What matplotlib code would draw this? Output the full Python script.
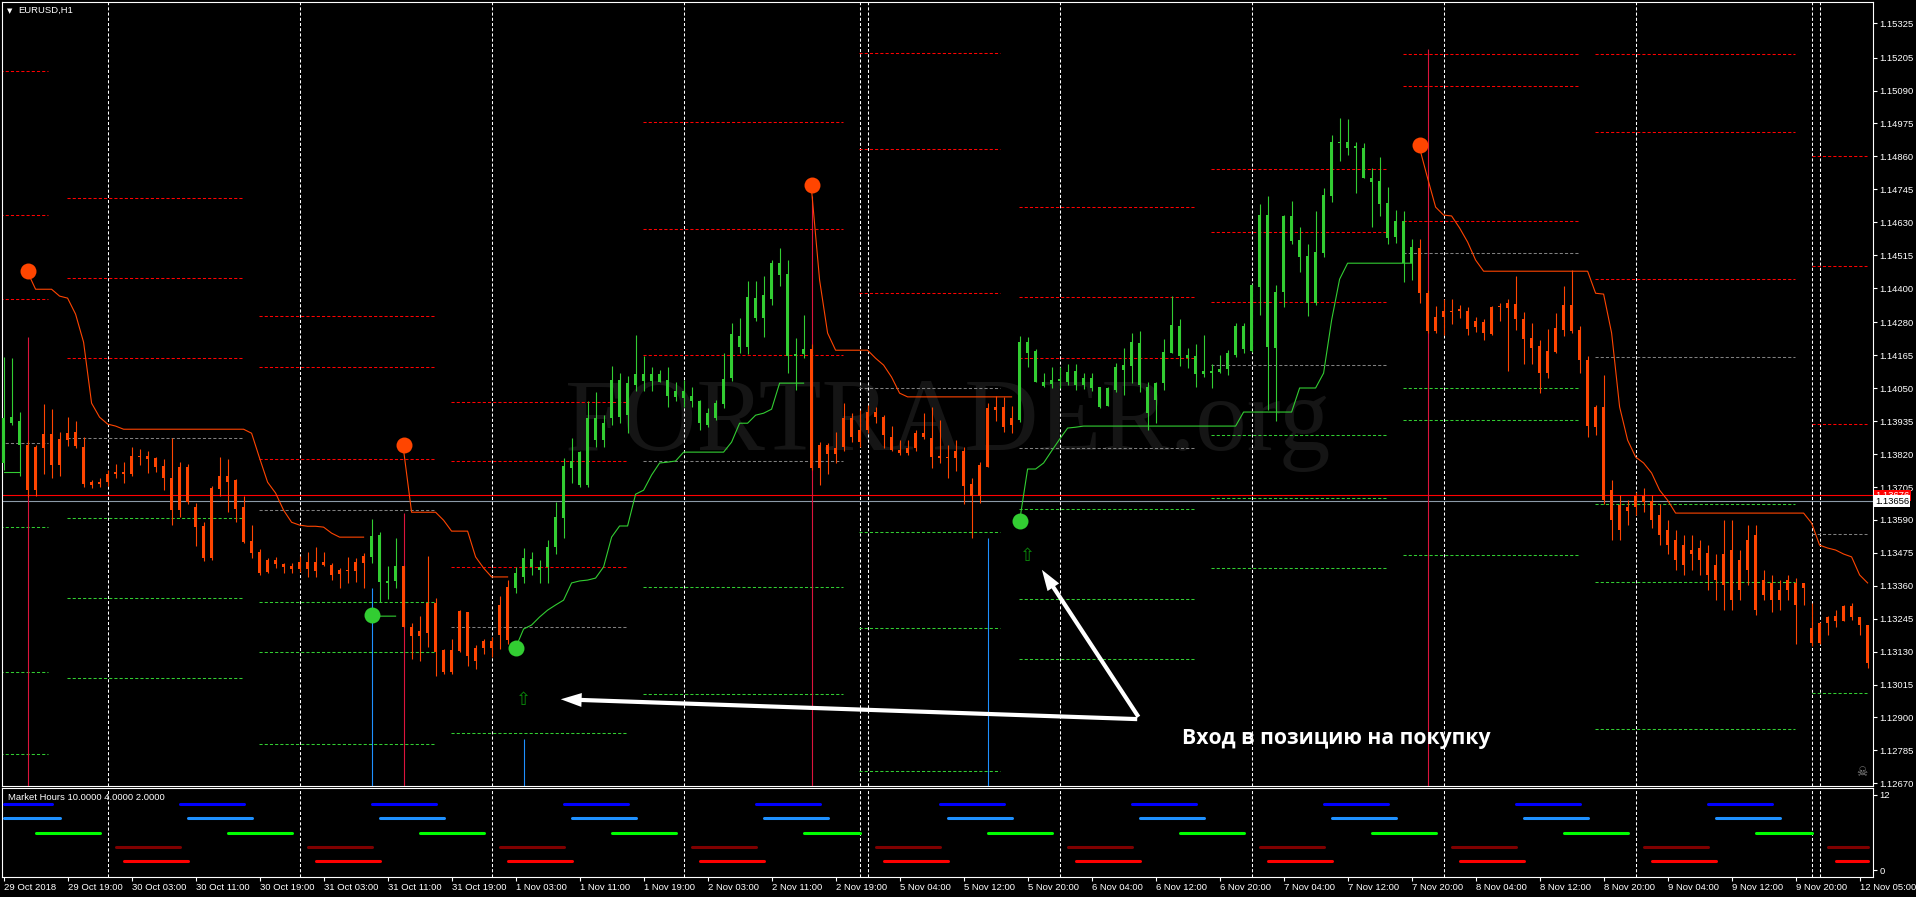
import numpy as np
import matplotlib.pyplot as plt
from matplotlib.patches import FancyArrowPatch
from matplotlib.transforms import blended_transform_factory

plt.rcParams['font.family'] = ['Liberation Sans', 'DejaVu Sans']

# EURUSD H1, 29 Oct 11:00 .. 12 Nov 05:00, prices in points (1e-5)
opens = [
    113789, 113928, 113851, 113851, 113844, 113890, 113890, 113872, 113893, 113897,
    113844, 113722, 113722, 113750, 113757, 113757, 113813, 113813, 113813, 113805,
    113777, 113736, 113774, 113774, 113634, 113568, 113701, 113743, 113743, 113729,
    113634, 113516, 113478, 113450, 113450, 113436, 113429, 113443, 113443, 113443,
    113443, 113433, 113415, 113415, 113443, 113464, 113461, 113373, 113370, 113377,
    113429, 113216, 113202, 113300, 113300, 113136, 113136, 113272, 113268, 113143,
    113167, 113167, 113293, 113355, 113352, 113391, 113426, 113415, 113426, 113495,
    113596, 113770, 113712, 113712, 113868, 113868, 113946, 113949, 113957, 114061,
    114075, 114075, 114072, 114023, 114020, 114016, 114004, 113928, 113921, 113946,
    113994, 114086, 114194, 114194, 114295, 114295, 114361, 114445, 114449, 114169,
    114169, 114187, 113851, 113851, 113841, 113946, 113946, 113906, 113967, 113967,
    113949, 113879, 113834, 113841, 113893, 113893, 113876, 113813, 113809, 113830,
    113830, 113715, 113781, 113981, 113985, 113985, 113946, 113939, 114173, 114072,
    114058, 114065, 114075, 114072, 114061, 114061, 114051, 113985, 113988, 114044,
    114114, 114128, 114061, 113964, 114009, 114068, 114173, 114162, 114155, 114100,
    114100, 114103, 114107, 114117, 114166, 114187, 114180, 114403, 114655, 114190,
    114386, 114565, 114509, 114348, 114348, 114522, 114721, 114906, 114889, 114889,
    114889, 114784, 114774, 114697, 114634, 114634, 114543, 114540, 114382, 114299,
    114320, 114320, 114327, 114320, 114285, 114281, 114334, 114337, 114348, 114344,
    114292, 114225, 114197, 114180, 114260, 114341, 114341, 114253, 114148, 113985,
    113985, 113694, 113642, 113634, 113674, 113674, 113655, 113607, 113555, 113520,
    113503, 113485, 113492, 113475, 113433, 113470, 113485, 113450, 113520, 113537,
    113380, 113370, 113345, 113380, 113370, 113370, 113212, 113230, 113251, 113254,
    113289, 113289, 113251, 113223]
highs = [
    114159, 114155, 113967, 113868, 113851, 113995, 113977, 113897, 113949, 113935,
    113879, 113729, 113736, 113764, 113785, 113792, 113844, 113838, 113830, 113809,
    113802, 113875, 113792, 113785, 113648, 113582, 113708, 113809, 113802, 113733,
    113672, 113572, 113488, 113457, 113461, 113440, 113440, 113464, 113478, 113495,
    113478, 113440, 113422, 113461, 113457, 113475, 113593, 113548, 113429, 113527,
    113429, 113230, 113254, 113464, 113317, 113139, 113174, 113275, 113268, 113153,
    113174, 113181, 113324, 113380, 113426, 113492, 113478, 113450, 113520, 113652,
    113806, 113875, 113830, 114004, 114036, 113957, 114128, 114103, 114093, 114236,
    114162, 114124, 114114, 114124, 114072, 114079, 114054, 114009, 113981, 114009,
    114173, 114278, 114295, 114424, 114424, 114442, 114498, 114540, 114498, 114225,
    114306, 114203, 113862, 113858, 113897, 113999, 113964, 113974, 113991, 113985,
    113957, 113918, 113868, 113868, 113906, 113964, 113985, 113939, 113851, 113868,
    113844, 113736, 113792, 113999, 114023, 114020, 113988, 114232, 114229, 114187,
    114103, 114124, 114124, 114135, 114135, 114103, 114103, 114054, 114054, 114138,
    114190, 114243, 114250, 114072, 114072, 114222, 114372, 114292, 114190, 114203,
    114236, 114135, 114166, 114183, 114278, 114278, 114414, 114693, 114721, 114410,
    114655, 114704, 114613, 114555, 114669, 114749, 114934, 114994, 114990, 114910,
    114906, 114819, 114858, 114753, 114672, 114669, 114571, 114571, 114393, 114337,
    114361, 114361, 114341, 114334, 114299, 114292, 114337, 114348, 114361, 114442,
    114316, 114278, 114218, 114257, 114313, 114407, 114463, 114267, 114162, 113991,
    114096, 113729, 113676, 113659, 113687, 113701, 113676, 113645, 113589, 113555,
    113537, 113537, 113520, 113503, 113470, 113589, 113589, 113485, 113572, 113572,
    113415, 113398, 113380, 113398, 113387, 113370, 113300, 113233, 113254, 113275,
    113293, 113300, 113251, 113223]
lows = [
    113764, 113921, 113742, 113669, 113672, 113749, 113735, 113742, 113847, 113841,
    113705, 113701, 113705, 113708, 113735, 113719, 113742, 113782, 113753, 113757,
    113694, 113572, 113600, 113645, 113499, 113446, 113450, 113674, 113617, 113582,
    113510, 113457, 113398, 113405, 113422, 113405, 113405, 113408, 113391, 113391,
    113429, 113380, 113352, 113370, 113373, 113352, 113440, 113303, 113314, 113352,
    113216, 113104, 113097, 113146, 113045, 113052, 113052, 113129, 113080, 113069,
    113122, 113111, 113139, 113157, 113334, 113370, 113398, 113370, 113370, 113470,
    113527, 113719, 113705, 113705, 113844, 113844, 113921, 113928, 113893, 114039,
    114039, 114039, 114072, 113985, 114006, 113985, 113985, 113906, 113914, 113939,
    113981, 114075, 114173, 114169, 114285, 114229, 114341, 114407, 114103, 114044,
    114155, 113764, 113712, 113749, 113789, 113830, 113861, 113844, 113893, 113928,
    113841, 113830, 113817, 113817, 113830, 113872, 113772, 113789, 113736, 113760,
    113645, 113527, 113648, 113774, 113935, 113897, 113893, 113932, 114124, 114072,
    114054, 114051, 114051, 114061, 114044, 114047, 114039, 113981, 113988, 114036,
    114026, 114068, 114036, 113906, 113928, 114044, 114173, 114128, 114121, 114054,
    114089, 114051, 114103, 114096, 114159, 114173, 114176, 114306, 113974, 113935,
    114334, 114555, 114456, 114302, 114341, 114509, 114700, 114844, 114865, 114732,
    114784, 114613, 114652, 114555, 114558, 114421, 114428, 114348, 114243, 114243,
    114236, 114274, 114295, 114236, 114246, 114218, 114236, 114285, 114110, 114253,
    114135, 114135, 114033, 114086, 114173, 114232, 114243, 114103, 113879, 113887,
    113645, 113520, 113520, 113572, 113607, 113617, 113561, 113503, 113470, 113415,
    113398, 113415, 113398, 113345, 113310, 113275, 113275, 113310, 113362, 113258,
    113310, 113268, 113275, 113310, 113157, 113293, 113150, 113157, 113188, 113216,
    113237, 113240, 113188, 113073]
closes = [
    113946, 113949, 113935, 113694, 113694, 113841, 113782, 113782, 113868, 113847,
    113715, 113712, 113715, 113722, 113749, 113749, 113750, 113809, 113802, 113774,
    113736, 113624, 113624, 113652, 113565, 113457, 113457, 113698, 113722, 113628,
    113513, 113475, 113405, 113408, 113436, 113426, 113419, 113419, 113419, 113412,
    113433, 113398, 113401, 113412, 113412, 113440, 113534, 113537, 113377, 113429,
    113216, 113184, 113184, 113195, 113129, 113059, 113059, 113132, 113115, 113097,
    113143, 113143, 113188, 113171, 113405, 113457, 113453, 113426, 113495, 113600,
    113777, 113796, 113826, 113945, 113945, 113928, 114079, 114079, 114068, 114100,
    114100, 114100, 114100, 114079, 114039, 114040, 114023, 114006, 113964, 113999,
    114082, 114239, 114232, 114368, 114365, 114375, 114487, 114487, 114162, 114162,
    114187, 113772, 113772, 113820, 113820, 113844, 113879, 113861, 113906, 113949,
    113887, 113834, 113823, 113823, 113841, 113879, 113809, 113806, 113806, 113806,
    113708, 113672, 113672, 113774, 113974, 113914, 113921, 114211, 114211, 114180,
    114072, 114079, 114082, 114107, 114110, 114086, 114086, 114054, 114051, 114124,
    114131, 114211, 114208, 114054, 114068, 114176, 114271, 114267, 114166, 114162,
    114110, 114110, 114117, 114173, 114267, 114267, 114410, 114655, 114194, 114386,
    114652, 114652, 114569, 114512, 114526, 114725, 114910, 114910, 114910, 114896,
    114784, 114770, 114693, 114575, 114578, 114487, 114487, 114382, 114250, 114250,
    114299, 114316, 114320, 114257, 114264, 114243, 114239, 114334, 114330, 114292,
    114222, 114190, 114103, 114103, 114176, 114253, 114250, 114148, 113918, 113914,
    113659, 113589, 113555, 113621, 113634, 113652, 113589, 113537, 113503, 113450,
    113433, 113470, 113450, 113398, 113380, 113362, 113310, 113345, 113415, 113275,
    113327, 113310, 113310, 113345, 113293, 113352, 113160, 113160, 113230, 113237,
    113237, 113251, 113223, 113090]

# bars painted green by the trend indicator (others orange)
green_runs = [(0, 2), (46, 49), (64, 100), (127, 176)]

# trailing stop line: (first bar, values)
stop_red = [
    (3, [114456, 114396, 114396, 114396, 114372, 114365, 114309, 114211, 113998, 113949,
         113925, 113918, 113907, 113907, 113907, 113907, 113907, 113907, 113907, 113907,
         113907, 113907, 113907, 113907, 113907, 113907, 113907, 113907, 113893, 113806,
         113722, 113684, 113624, 113582, 113572, 113568, 113568, 113565, 113544, 113530,
         113530, 113530, 113530]),
    (50, [113834, 113617, 113617, 113617, 113617, 113589, 113551, 113551, 113551, 113461,
          113422, 113391, 113391, 113391]),
    (101, [114742, 114428, 114243, 114183, 114183, 114183, 114183, 114183, 114155, 114131,
           114089, 114033, 114020, 114020, 114020, 114020, 114020, 114020, 114020, 114020,
           114020, 114020, 114020, 114020, 114020, 114020]),
    (177, [114889, 114784, 114683, 114655, 114652, 114610, 114561, 114498, 114459, 114459,
           114459, 114459, 114459, 114459, 114459, 114459, 114459, 114459, 114459, 114459,
           114459, 114459, 114382, 114379, 114243, 113985, 113869, 113810, 113789, 113754,
           113694, 113659, 113614, 113614, 113614, 113614, 113614, 113614, 113614, 113614,
           113614, 113614, 113614, 113614, 113614, 113614, 113614, 113614, 113614, 113579,
           113502, 113492, 113485, 113471, 113461, 113398, 113370]),
]
stop_green = [
    (0, [113757, 113757, 113757]),
    (46, [113258, 113254, 113254, 113254]),
    (64, [113143, 113209, 113223, 113251, 113275, 113293, 113310, 113370, 113377, 113380,
          113387, 113426, 113530, 113569, 113569, 113680, 113694, 113747, 113789, 113792,
          113796, 113827, 113827, 113827, 113827, 113827, 113827, 113862, 113928, 113928,
          113956, 113963, 113977, 114068, 114068, 114068, 114068]),
    (127, [113586, 113768, 113768, 113789, 113831, 113872, 113911, 113914, 113918, 113918,
           113918, 113918, 113918, 113918, 113918, 113918, 113918, 113918, 113918, 113918,
           113918, 113918, 113918, 113918, 113918, 113918, 113918, 113918, 113967, 113967,
           113967, 113967, 113967, 113967, 113967, 114051, 114051, 114051, 114103, 114288,
           114431, 114487, 114487, 114487, 114487, 114487, 114487, 114487, 114487, 114487]),
]

sell_dots = [(3, 114459), (50, 113851), (101, 114761), (177, 114899)]
buy_dots = [(46, 113258), (64, 113143), (127, 113587)]
sell_lines = [(3, 114229), (50, 113614), (101, 114721), (178, 115235)]
buy_lines = [(46, 113352), (65, 112825), (123, 113527)]
buy_arrows = [(65, 112961), (128, 113464)]

# daily pivots: bar span and R3, R2, R1, P, S1, S2, S3
pivot_spans = [(-0.5, 5.5), (7.9, 29.9), (31.9, 53.9), (55.9, 77.9), (79.9, 104.9),
               (106.9, 124.5), (126.9, 148.9), (150.9, 172.9), (174.9, 196.9),
               (198.9, 223.9), (226.0, 232.9)]
pivot_levels = [
    [115158, 114655, 114361, 113858, 113565, 113058, 112772],
    [114714, 114435, 114155, 113876, 113596, 113317, 113037],
    [114302, 114124, 113803, 113624, 113303, 113128, 112807],
    [114002, 113796, 113426, 113216, 112845, 112636, 112266],
    [114980, 114608, 114168, 113796, 113355, 112983, 112543],
    [115221, 114886, 114383, 114051, 113548, 113212, 112713],
    [114683, 114368, 114155, 113841, 113628, 113314, 113104],
    [114816, 114596, 114351, 114131, 113887, 113666, 113422],
    [115217, 115106, 114634, 114522, 114051, 113939, 113467],
    [115217, 114945, 114431, 114159, 113645, 113373, 112859],
    [114861, 114477, 113925, 113541, 112985, 112601, 112049],
]

ask_price = 1.13676
bid_price = 1.13656

day_separators = [13, 37, 61, 85, 107, 108, 132, 156, 180, 204, 226, 227]

# Market Hours indicator: day start/end bars, session offset, level, colour
day_starts = [-11, 13, 37, 61, 85, 108, 132, 156, 180, 204, 227]
day_ends = [13, 37, 61, 85, 107, 132, 156, 180, 204, 226, 233]
session_offsets = [9, 10, 15, 1, 2]
session_levels = [10.6, 8.3, 6.0, 3.7, 1.4]
session_colors = ['#0000ff', '#1e90ff', '#00ff00', '#800000', '#ff0000']
session_len = 8

price_ticks = [1.15325, 1.15205, 1.15090, 1.14975, 1.14860, 1.14745, 1.14630, 1.14515,
               1.14400, 1.14280, 1.14165, 1.14050, 1.13935, 1.13820, 1.13705, 1.13590,
               1.13475, 1.13360, 1.13245, 1.13130, 1.13015, 1.12900, 1.12785, 1.12670]
time_labels = ['29 Oct 2018', '29 Oct 19:00', '30 Oct 03:00', '30 Oct 11:00', '30 Oct 19:00',
               '31 Oct 03:00', '31 Oct 11:00', '31 Oct 19:00', '1 Nov 03:00', '1 Nov 11:00',
               '1 Nov 19:00', '2 Nov 03:00', '2 Nov 11:00', '2 Nov 19:00', '5 Nov 04:00',
               '5 Nov 12:00', '5 Nov 20:00', '6 Nov 04:00', '6 Nov 12:00', '6 Nov 20:00',
               '7 Nov 04:00', '7 Nov 12:00', '7 Nov 20:00', '8 Nov 04:00', '8 Nov 12:00',
               '8 Nov 20:00', '9 Nov 04:00', '9 Nov 12:00', '9 Nov 20:00', '12 Nov 05:00']

PT = 1e-5
GREEN = '#32cd32'
ORANGE = '#ff4500'

fig = plt.figure(figsize=(19.16, 8.97), dpi=100, facecolor='black')
ax = fig.add_axes([0.0012, 0.12408, 0.97651, 0.87336])
ax2 = fig.add_axes([0.0012, 0.02263, 0.97651, 0.09855])
for a in (ax, ax2):
    a.set_facecolor('black')
    for s in a.spines.values():
        s.set_color('white')
        s.set_linewidth(0.8)
    a.set_xlim(-0.16, 233.71)
    for b in day_separators:
        a.axvline(b, color='white', lw=0.75, ls=(0, (3, 2)), zorder=1)

ax.set_ylim(1.126617, 1.153984)

# watermark
ax.text(0.3007, 0.4285, 'FORTRADER.org', transform=ax.transAxes, fontsize=74,
        family='Liberation Serif', color='#151515', ha='left', va='baseline', zorder=0)

# pivots
for (x0, x1), lv in zip(pivot_spans, pivot_levels):
    for k, v in enumerate(lv):
        col = '#ff0000' if k < 3 else ('#808080' if k == 3 else GREEN)
        ax.plot([x0, x1], [v * PT, v * PT], color=col, lw=0.75, ls=(0, (3, 2)), zorder=2)

ax.axhline(ask_price, color='#ff0000', lw=0.8, zorder=2)
ax.axhline(bid_price, color='#8c9aa8', lw=0.8, zorder=2)

ybot = ax.get_ylim()[0]
for b, top in sell_lines:
    ax.vlines(b, ybot, top * PT, color='#dc143c', lw=0.8, zorder=3)
for b, top in buy_lines:
    ax.vlines(b, ybot, top * PT, color='#1e90ff', lw=0.8, zorder=3)

# candles
o = np.array(opens) * PT
h = np.array(highs) * PT
l = np.array(lows) * PT
c = np.array(closes) * PT
xs = np.arange(len(o))
is_green = np.zeros(len(o), bool)
for a0, a1 in green_runs:
    is_green[a0:a1 + 1] = True
cols = np.where(is_green, GREEN, ORANGE)
ax.vlines(xs, l, h, colors=cols, lw=0.8, zorder=4)
top = np.maximum(o, c)
bot = np.minimum(o, c)
ax.bar(xs, np.maximum(top - bot, 3e-5), bottom=bot, width=0.45, color=cols, lw=0, zorder=4)

for start, vals in stop_red:
    ax.plot(np.arange(start, start + len(vals)), np.array(vals) * PT, color=ORANGE, lw=0.8, zorder=5)
for start, vals in stop_green:
    ax.plot(np.arange(start, start + len(vals)), np.array(vals) * PT, color=GREEN, lw=0.8, zorder=5)

for b, v in sell_dots:
    ax.plot(b, v * PT, 'o', ms=11.5, color=ORANGE, mec='none', zorder=6)
for b, v in buy_dots:
    ax.plot(b, v * PT, 'o', ms=11.5, color=GREEN, mec='none', zorder=6)
for b, v in buy_arrows:
    ax.text(b, v * PT, '\u21e7', color='#0a8a0a', fontsize=13, family='DejaVu Sans',
            ha='center', va='center', zorder=6)

# annotation
tail = (142.05, 1.12894)
for tip in [(69.3, 1.12964), (129.6, 1.13424)]:
    ax.add_patch(FancyArrowPatch(tail, tip, arrowstyle='simple,head_length=1.5,head_width=1.0,tail_width=0.3',
                                 mutation_scale=10, color='white', lw=0, zorder=7))
ax.text(147.3, 1.12828, 'Вход в позицию на покупку', color='white', fontsize=15.2,
        fontweight='bold', family=['Open Sans', 'DejaVu Sans'], ha='left', va='center', zorder=7)

# price axis
ax.set_xticks([])
ax.yaxis.tick_right()
ax.set_yticks(price_ticks)
ax.set_yticklabels(['%.5f' % p for p in price_ticks])
ax.tick_params(axis='y', direction='out', length=3, width=0.8, colors='white',
               labelsize=6.8, pad=1.5)
tr = blended_transform_factory(ax.transAxes, ax.transData)
ax.text(1.001, ask_price, '%.5f' % ask_price, transform=tr, color='white', fontsize=6.8,
        ha='left', va='center', bbox=dict(boxstyle='square,pad=0.12', fc='#ff0000', ec='none'), zorder=8)
ax.text(1.001, bid_price, '%.5f' % bid_price, transform=tr, color='black', fontsize=6.8,
        ha='left', va='center', bbox=dict(boxstyle='square,pad=0.12', fc='white', ec='none'), zorder=8)

# market hours panel
ax2.set_ylim(-1.07, 13.07)
for d0, d1 in zip(day_starts, day_ends):
    for off, lev, col in zip(session_offsets, session_levels, session_colors):
        a0 = max(d0 + off, 0)
        a1 = min(d0 + off + session_len, d1)
        if a1 > a0:
            ax2.plot([a0, a1], [lev, lev], color=col, lw=2.2, solid_capstyle='round', zorder=3)
ax2.yaxis.tick_right()
ax2.set_yticks([0, 12])
ax2.set_yticklabels(['0', '12'])
ax2.set_xticks(np.arange(0, 233, 8))
ax2.set_xticklabels(time_labels)
for lbl in ax2.get_xticklabels():
    lbl.set_horizontalalignment('left')
ax2.tick_params(direction='out', length=3, width=0.8, colors='white', labelsize=6.8, pad=1.5)

fig.text(0.00955, 0.98807, 'EURUSD,H1', color='white', fontsize=6.8, va='center', ha='left')
fig.text(0.0049, 0.98807, '\u25bc', color='white', fontsize=5, va='center', ha='center',
         family='DejaVu Sans')
fig.text(0.00397, 0.11115, 'Market Hours 10.0000 4.0000 2.0000', color='white', fontsize=6.8,
         va='center', ha='left')
fig.text(1862 / 1916, 1 - 772 / 897, '\u2620', color='#8a8a8a', fontsize=9, va='center',
         ha='center', family='DejaVu Sans')

fig.savefig('out.png', dpi=100, facecolor='black')
